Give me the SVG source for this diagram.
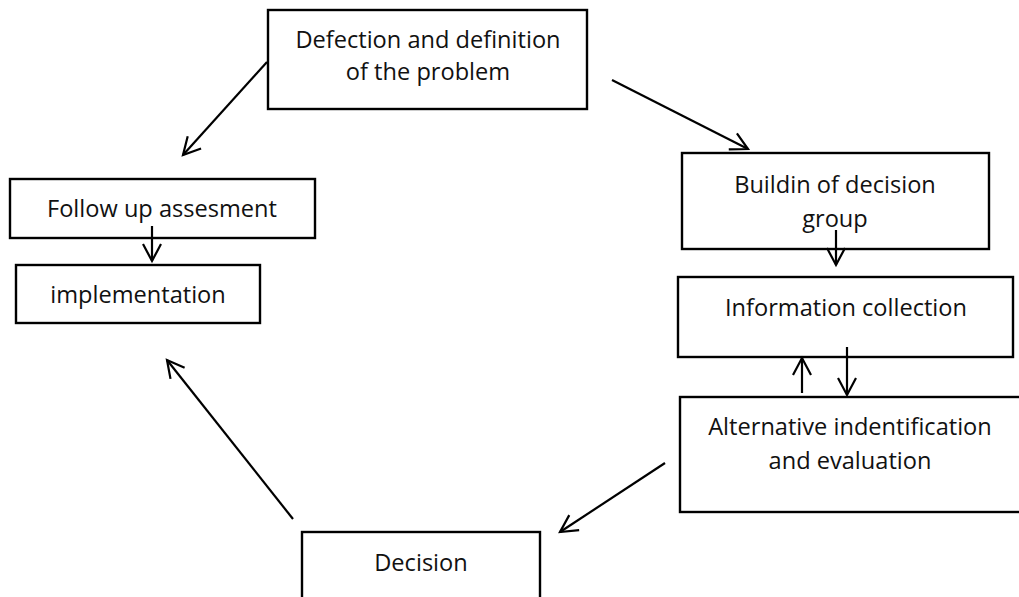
<svg xmlns="http://www.w3.org/2000/svg" width="1019" height="597" viewBox="0 0 1019 597">
<defs>
<marker id="arr" markerUnits="userSpaceOnUse" markerWidth="24" markerHeight="24" viewBox="-20 -12 24 24" refX="0" refY="0" orient="auto">
<path d="M -17,-9 L 0,0 L -17,9" fill="none" stroke="#000" stroke-width="2.2"/>
</marker>
</defs>
<style>
.box{fill:#fff;stroke:#000;stroke-width:2.4}
.t{font-family:"Open Sans","Liberation Sans",sans-serif;font-size:23.6px;fill:#111;text-anchor:middle}
.c{fill:none;stroke:#000;stroke-width:2.2;marker-end:url(#arr)}
</style>
<rect width="1019" height="597" fill="#fff"/>
<g id="n1"><rect class="box" x="268" y="10" width="319" height="99"/><text class="t" x="428" y="48">Defection and definition</text><text class="t" x="428" y="80">of the problem</text></g>
<g id="n2"><rect class="box" x="682" y="153" width="307" height="96"/><text class="t" x="835" y="193">Buildin of decision</text><text class="t" x="835" y="227">group</text></g>
<g id="n3"><rect class="box" x="678" y="277" width="335" height="80"/><text class="t" x="846" y="316">Information collection</text></g>
<g id="n4"><rect class="box" x="680" y="397" width="345" height="115"/><text class="t" x="850" y="435">Alternative indentification</text><text class="t" x="850" y="469">and evaluation</text></g>
<g id="n5"><rect class="box" x="302" y="532" width="238" height="70"/><text class="t" x="421" y="571">Decision</text></g>
<g id="n6"><rect class="box" x="16" y="265" width="244" height="58"/><text class="t" x="138" y="303">implementation</text></g>
<g id="n7"><rect class="box" x="10" y="179" width="305" height="59"/><text class="t" x="162" y="217">Follow up assesment</text></g>
<g id="connectors">
<line class="c" x1="267" y1="62" x2="183" y2="155"/>
<line class="c" x1="612" y1="80" x2="748" y2="149"/>
<line class="c" x1="836" y1="230" x2="836" y2="265"/>
<line class="c" x1="802" y1="393" x2="802" y2="358"/>
<line class="c" x1="847" y1="347" x2="847" y2="395"/>
<line class="c" x1="665" y1="463" x2="560" y2="532"/>
<line class="c" x1="293" y1="519" x2="167" y2="360"/>
<line class="c" x1="152" y1="226" x2="152" y2="261"/>
</g>
</svg>
